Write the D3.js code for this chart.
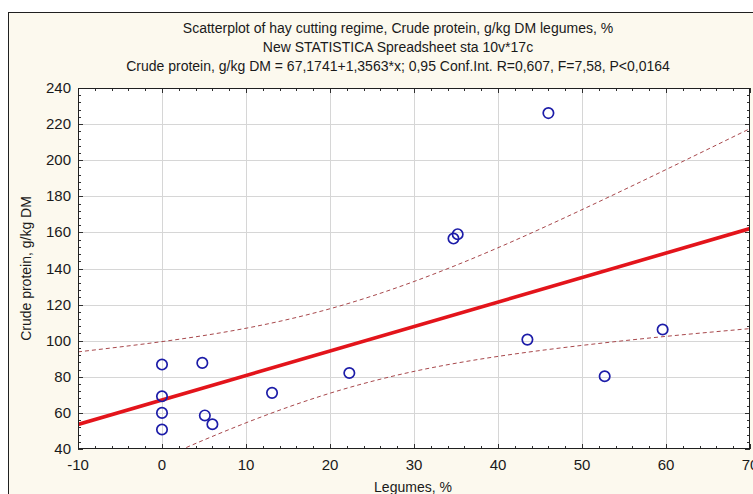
<!DOCTYPE html>
<html>
<head>
<meta charset="utf-8">
<script src="https://cdn.jsdelivr.net/npm/d3@7/dist/d3.min.js"></script>
<style>
  html, body { margin: 0; padding: 0; background: #ffffff; }
  svg { display: block; }
  text { font-family: "Liberation Sans", Arial, sans-serif; fill: #1a1a1a; }
</style>
</head>
<body>
<svg id="chart" width="753" height="494"></svg>
<script>
// ---- data ----
const titleLines = [
  "Scatterplot of hay cutting regime, Crude protein, g/kg DM legumes, %",
  "New STATISTICA Spreadsheet sta 10v*17c",
  "Crude protein, g/kg DM = 67,1741+1,3563*x; 0,95 Conf.Int. R=0,607, F=7,58, P<0,0164"
];
const xLabel = "Legumes, %";
const yLabel = "Crude protein, g/kg DM";
const legumes = [0, 0, 0, 0, 4.8, 5.1, 6.0, 13.1, 22.3, 34.7, 35.2, 46.0, 43.5, 52.7, 59.6];
const protein = [86.8, 69.2, 60, 50.8, 87.7, 58.6, 53.7, 71.1, 82.1, 156.6, 159, 226.1, 100.6, 80.3, 106.2];
const fitIntercept = 67.1741;
const fitSlope = 1.3563;
const bandX = [-10, 0, 10, 20, 30, 40, 50, 60, 70];
const bandUpper = [93.8, 99.5, 106.9, 117.7, 132.8, 151.5, 172.6, 194.8, 217.5];
const bandLower = [13.4, 34.9, 54.5, 70.9, 83.0, 91.3, 97.4, 102.4, 106.7];
const xTicks = [-10, 0, 10, 20, 30, 40, 50, 60, 70];
const yTicks = [40, 60, 80, 100, 120, 140, 160, 180, 200, 220, 240];
const xDomain = [-10, 70];
const yDomain = [40, 240];

// ---- layout ----
const svg = d3.select("#chart");
const W = 753, H = 494;
const plot = { left: 78, right: 750, top: 88, bottom: 449 };

// outer frame with cream background
svg.append("rect").attr("x", 8.5).attr("y", 12.5).attr("width", W + 10).attr("height", H + 10)
  .attr("fill", "#fcf9ee").attr("stroke", "#202020").attr("stroke-width", 1);

const x = d3.scaleLinear().domain(xDomain).range([plot.left, plot.right]);
const y = d3.scaleLinear().domain(yDomain).range([plot.bottom, plot.top]);

// plot background
svg.append("rect").attr("x", plot.left).attr("y", plot.top)
  .attr("width", plot.right - plot.left).attr("height", plot.bottom - plot.top)
  .attr("fill", "#ffffff");

// grid
const grid = svg.append("g").attr("stroke", "#d6d6d6").attr("stroke-width", 1);
grid.selectAll("line.gx").data(xTicks.slice(1, -1)).join("line")
  .attr("x1", d => Math.round(x(d)) + 0.5).attr("x2", d => Math.round(x(d)) + 0.5)
  .attr("y1", plot.top).attr("y2", plot.bottom);
grid.selectAll("line.gy").data(yTicks.slice(1, -1)).join("line")
  .attr("y1", d => Math.round(y(d)) + 0.5).attr("y2", d => Math.round(y(d)) + 0.5)
  .attr("x1", plot.left).attr("x2", plot.right);

// clip
svg.append("clipPath").attr("id", "clip").append("rect")
  .attr("x", plot.left).attr("y", plot.top)
  .attr("width", plot.right - plot.left).attr("height", plot.bottom - plot.top);
const inner = svg.append("g").attr("clip-path", "url(#clip)");

// confidence bands
const bandLine = d3.line().x(d => x(d[0])).y(d => y(d[1])).curve(d3.curveNatural);
[bandUpper, bandLower].forEach(arr => {
  inner.append("path").datum(bandX.map((v, i) => [v, arr[i]]))
    .attr("d", bandLine).attr("fill", "none")
    .attr("stroke", "#a8484c").attr("stroke-width", 1).attr("stroke-dasharray", "4,3");
});

// regression line
inner.append("line")
  .attr("x1", x(xDomain[0])).attr("y1", y(fitIntercept + fitSlope * xDomain[0]))
  .attr("x2", x(xDomain[1])).attr("y2", y(fitIntercept + fitSlope * xDomain[1]))
  .attr("stroke", "#e3141b").attr("stroke-width", 3.6);

// points
inner.selectAll("circle").data(legumes.map((v, i) => [v, protein[i]])).join("circle")
  .attr("cx", d => x(d[0])).attr("cy", d => y(d[1])).attr("r", 5.2)
  .attr("fill", "none").attr("stroke", "#1c1ca8").attr("stroke-width", 1.7);

// axes with inward ticks (major + minor) on all four sides
const xMinor = d3.range(xDomain[0], xDomain[1] + 0.001, 2);
const yMinor = d3.range(yDomain[0], yDomain[1] + 0.001, 4);
const tk = svg.append("g").attr("stroke", "#303030").attr("stroke-width", 1);
xMinor.forEach(v => {
  const major = xTicks.includes(v);
  const len = major ? 5 : 3;
  const px = Math.round(x(v)) + 0.5;
  tk.append("line").attr("x1", px).attr("x2", px).attr("y1", plot.bottom).attr("y2", plot.bottom - len);
  tk.append("line").attr("x1", px).attr("x2", px).attr("y1", plot.top).attr("y2", plot.top + len);
});
yMinor.forEach(v => {
  const major = yTicks.includes(v);
  const len = major ? 5 : 3;
  const py = Math.round(y(v)) + 0.5;
  tk.append("line").attr("y1", py).attr("y2", py).attr("x1", plot.left).attr("x2", plot.left + len);
  tk.append("line").attr("y1", py).attr("y2", py).attr("x1", plot.right).attr("x2", plot.right - len);
});

// frame
svg.append("rect").attr("x", plot.left + 0.5).attr("y", plot.top + 0.5)
  .attr("width", plot.right - plot.left - 1).attr("height", plot.bottom - plot.top - 1)
  .attr("fill", "none").attr("stroke", "#202020").attr("stroke-width", 1);

// tick labels
svg.append("g").selectAll("text").data(xTicks).join("text")
  .attr("x", d => x(d)).attr("y", 470).attr("text-anchor", "middle")
  .attr("font-size", 15).text(d => d);
svg.append("g").selectAll("text").data(yTicks).join("text")
  .attr("x", 71).attr("y", d => y(d) + 5).attr("text-anchor", "end")
  .attr("font-size", 15).text(d => d);

// axis titles
svg.append("text").attr("x", 413).attr("y", 492).attr("text-anchor", "middle")
  .attr("font-size", 14).text(xLabel);
svg.append("text").attr("transform", `translate(31,${(plot.top + plot.bottom) / 2}) rotate(-90)`)
  .attr("text-anchor", "middle").attr("font-size", 14).text(yLabel);

// titles
const titleY = [33, 52, 71];
titleLines.forEach((t, i) => {
  svg.append("text").attr("x", 398).attr("y", titleY[i]).attr("text-anchor", "middle")
    .attr("font-size", 14).text(t);
});
</script>
</body>
</html>
